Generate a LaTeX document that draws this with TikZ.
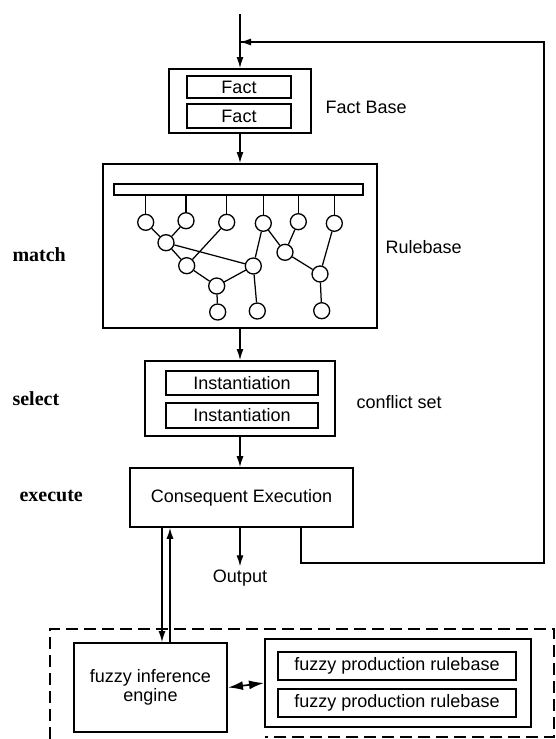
\documentclass[tikz,border=0pt]{standalone}
\usepackage{fontspec}
\setmainfont{Liberation Sans}
\newfontfamily\stagefont{Liberation Serif}
\usetikzlibrary{arrows.meta,calc}
\begin{document}
\begin{tikzpicture}[x=1pt,y=-1pt,
  txt/.style={font=\fontsize{18}{19.5}\selectfont},
  stage/.style={font=\fontsize{20}{22}\selectfont\stagefont\bfseries, anchor=west},
  outerbox/.style={draw, line width=2pt, rectangle, inner sep=0pt},
  innerbox/.style={draw, line width=1.2pt, rectangle, inner sep=0pt, txt},
  circ/.style={circle, draw, line width=1.3pt, minimum size=16pt, inner sep=0pt},
  conn/.style={line width=1.25pt},
  arr/.style={conn, -{Latex[length=11pt,width=7pt]}},
  darr/.style={line width=1.6pt, {Latex[length=15pt,width=9pt]}-{Latex[length=15pt,width=9pt]}}]
\useasboundingbox (0,0) rectangle (556,739);

% fact base
\node[outerbox, minimum width=142pt, minimum height=64pt] (factbase) at (240,101) {};
\node[innerbox, minimum width=104pt, minimum height=22pt] (fact1) at (239,87) {Fact};
\node[innerbox, minimum width=104pt, minimum height=24pt] (fact2) at (239,116) {Fact};
\node[txt, anchor=west] (fblabel) at (322,107) {Fact Base};

% rulebase with the match network
\node[outerbox, minimum width=274pt, minimum height=164pt] (rulebase) at (240,246) {};
\node[draw, line width=1.2pt, minimum width=249pt, minimum height=11pt, inner sep=0pt] (bar) at (238.5,189.5) {};
\node[txt, anchor=west] (rblabel) at (382,247) {Rulebase};
\node[stage] (match) at (9,255) {match};

\node[circ] (c1) at (145.7,222.3) {};
\node[circ] (c2) at (186,220.7) {};
\node[circ] (c3) at (226.7,222.3) {};
\node[circ] (c4) at (263.3,223.3) {};
\node[circ] (c5) at (298.3,221.7) {};
\node[circ] (c6) at (334.3,223.3) {};
\node[circ] (r2a) at (166,242.7) {};
\node[circ] (r2b) at (285,252.3) {};
\node[circ] (r3a) at (186.7,265.7) {};
\node[circ] (r3b) at (253.3,266) {};
\node[circ] (r3c) at (320,274) {};
\node[circ] (r4) at (216.7,286) {};
\node[circ] (r5a) at (217.7,312) {};
\node[circ] (r5b) at (257.3,311) {};
\node[circ] (r5c) at (321.7,310.7) {};

\foreach \c in {c1,c2,c3,c4,c5,c6}
  \draw[conn] (\c.north) -- (\c |- bar.south);

\draw[conn] (c1) -- (r2a);
\draw[conn] (c2) -- (r2a);
\draw[conn] (r2a) -- (r3a);
\draw[conn] (r2a) -- (r3b);
\draw[conn] (c3) -- (r3a);
\draw[conn] (r3a) -- (r4);
\draw[conn] (r4) -- (r3b);
\draw[conn] (r4) -- (r5a);
\draw[conn] (r3b) -- (c4);
\draw[conn] (r3b) -- (r5b);
\draw[conn] (c4) -- (r2b);
\draw[conn] (c5) -- (r2b);
\draw[conn] (r2b) -- (r3c);
\draw[conn] (c6) -- (r3c);
\draw[conn] (r3c) -- (r5c);

% conflict set
\node[outerbox, minimum width=190pt, minimum height=75pt] (conflict) at (240,398.5) {};
\node[innerbox, minimum width=152pt, minimum height=24pt] (inst1) at (242,383) {Instantiation};
\node[innerbox, minimum width=152pt, minimum height=25pt] (inst2) at (242,415.5) {Instantiation};
\node[txt, anchor=west] (cslabel) at (353,402) {conflict set};
\node[stage] (select) at (9,399) {select};

% consequent execution
\node[outerbox, line width=1.7pt, minimum width=223pt, minimum height=59pt, txt] (cons) at (241.5,497.5) {Consequent Execution};
\node[stage] (execute) at (16,496) {execute};
\node[txt] (output) at (240,578) {Output};

% fuzzy inference part
\node[outerbox, minimum width=153pt, minimum height=89pt, txt, align=center] (engine) at (150.5,687.5) {fuzzy inference\\engine};
\node[outerbox, minimum width=266pt, minimum height=88pt] (rbox) at (398,683) {};
\node[innerbox, minimum width=238pt, minimum height=28pt] (fpr1) at (397,666) {fuzzy production rulebase};
\node[innerbox, minimum width=238pt, minimum height=28pt] (fpr2) at (397,703) {fuzzy production rulebase};
\draw[line width=1.1pt, dash pattern=on 12pt off 6pt] (50,739) -- (50,629) -- (554,629) -- (554,737) -- (265,737);

% main flow
\coordinate (entry) at (240,14);
\draw[arr] (entry) -- (factbase.north);
\draw[arr] (factbase.south) -- (rulebase.north);
\draw[arr] (rulebase.south) -- (conflict.north);
\draw[arr] (conflict.south) -- (cons.north -| conflict.south);
\draw[arr] (cons.south -| output.north) -- (output.north);

% feedback loop
\coordinate (fbA) at (301,563);
\coordinate (fbB) at (544,563);
\coordinate (fbC) at (544,42);
\coordinate (fbD) at (240,42);
\draw[conn] (cons.south -| fbA) -- (fbA) -- (fbB) -- (fbC) -- ($(fbD)+(1,0)$);
\draw[arr] (fbC) -- (fbD);

% links to the fuzzy inference engine
\coordinate (dn) at (162,0);
\coordinate (up) at (170,0);
\draw[arr] (cons.south -| dn) -- (engine.north -| dn);
\draw[arr] (engine.north -| up) -- (cons.south -| up);
\draw[darr] (engine.east) -- (rbox.west);
\end{tikzpicture}
\end{document}
